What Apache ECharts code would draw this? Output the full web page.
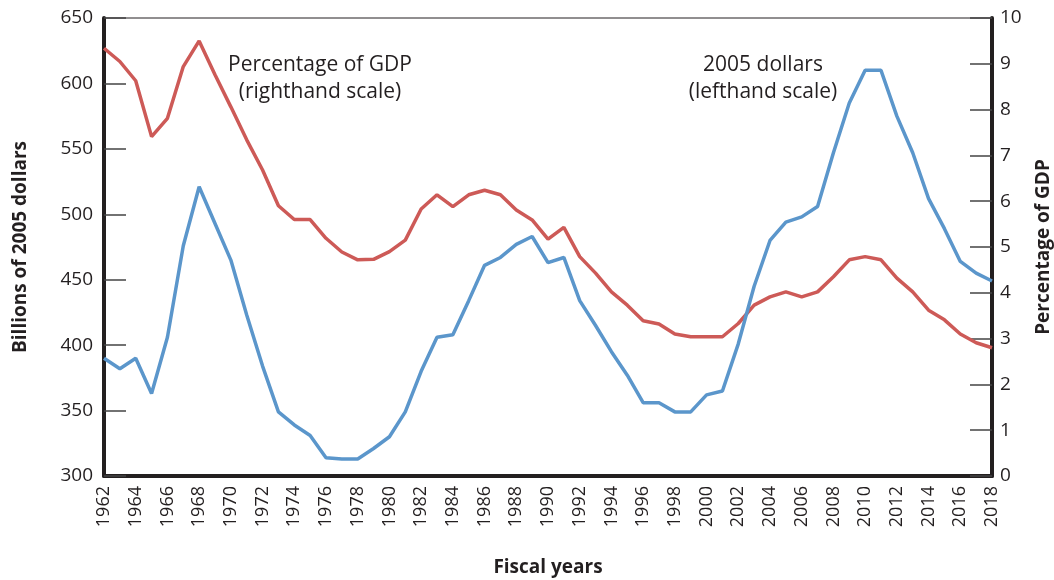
<!DOCTYPE html>
<html>
<head>
<meta charset="utf-8">
<script src="https://cdn.jsdelivr.net/npm/echarts@6/dist/echarts.min.js"></script>
<style>
  html, body { margin: 0; padding: 0; background: #fff; }
  #chart { width: 1054px; height: 580px; }
</style>
</head>
<body>
<div id="chart"></div>
<script>
const years = [];
for (let y = 1962; y <= 2018; y++) years.push(String(y));

// billions of 2005 dollars (lefthand scale)
const dollars2005 = [
  390, 382, 390, 363, 406, 476, 521, 493, 465, 423, 384, 349, 339, 331, 314,
  313, 313, 321, 330, 349, 380, 406, 408, 434, 461, 467, 477, 483, 463, 467,
  434, 415, 395, 377, 356, 356, 349, 349, 362, 365, 401, 445, 480, 494, 498,
  506, 547, 585, 610, 610, 575, 547, 512, 489, 464, 455, 449,
];

// percentage of GDP (righthand scale)
const pctGdp = [
  9.34, 9.05, 8.63, 7.41, 7.81, 8.94, 9.5, 8.76, 8.06, 7.34, 6.68, 5.9, 5.6, 5.6, 5.19,
  4.89, 4.72, 4.73, 4.9, 5.15, 5.83, 6.14, 5.88, 6.14, 6.24, 6.14, 5.81, 5.59, 5.17, 5.43,
  4.79, 4.43, 4.02, 3.73, 3.39, 3.32, 3.1, 3.04, 3.04, 3.04, 3.33, 3.73, 3.91, 4.02, 3.91,
  4.02, 4.35, 4.72, 4.79, 4.72, 4.32, 4.02, 3.62, 3.41, 3.1, 2.91, 2.8,
];

const ink = "#231f20";
const font = "'Open Sans', 'Noto Sans', sans-serif";

const chart = echarts.init(document.getElementById("chart"), null, { renderer: "canvas" });

const option = {
  animation: false,
  textStyle: { fontFamily: font, color: ink },
  grid: {
    left: 104,
    right: 62,
    top: 18,
    bottom: 104,
    containLabel: false,
    outerBoundsMode: "none",
    show: true,
    borderColor: ink,
    borderWidth: 1,
  },
  xAxis: {
    type: "category",
    data: years,
    boundaryGap: false,
    name: "Fiscal years",
    nameLocation: "middle",
    nameGap: 82,
    nameTextStyle: { fontFamily: font, fontWeight: "bold", fontSize: 19, color: ink },
    axisLine: { lineStyle: { color: ink, width: 4 } },
    axisTick: { show: false },
    axisLabel: {
      interval: 1,
      rotate: 90,
      fontFamily: font,
      fontSize: 18,
      color: ink,
      margin: 10,
    },
    splitLine: { show: false },
  },
  yAxis: [
    {
      type: "value",
      min: 300,
      max: 650,
      interval: 50,
      position: "left",
      name: "Billions of 2005 dollars",
      nameLocation: "middle",
      nameRotate: 90,
      nameGap: 74,
      nameTextStyle: { fontFamily: font, fontWeight: "bold", fontSize: 19, color: ink },
      axisLine: { show: true, lineStyle: { color: ink, width: 4 } },
      axisTick: { show: true, inside: true, length: 22, lineStyle: { color: "#444", width: 1.5 } },
      axisLabel: { fontFamily: font, fontSize: 19, color: ink, margin: 11 },
      splitLine: { show: false },
    },
    {
      type: "value",
      min: 0,
      max: 10,
      interval: 1,
      position: "right",
      name: "Percentage of GDP",
      nameLocation: "middle",
      nameRotate: 90,
      nameGap: 42,
      nameTextStyle: { fontFamily: font, fontWeight: "bold", fontSize: 19, color: ink },
      axisLine: { show: true, lineStyle: { color: ink, width: 4 } },
      axisTick: { show: true, inside: true, length: 22, lineStyle: { color: "#444", width: 1.5 } },
      axisLabel: { fontFamily: font, fontSize: 19, color: ink, margin: 8 },
      splitLine: { show: false },
    },
  ],
  series: [
    {
      name: "Percentage of GDP",
      type: "line",
      yAxisIndex: 1,
      data: pctGdp,
      symbol: "none",
      lineStyle: { color: "#cd5a57", width: 3.5 },
      z: 3,
    },
    {
      name: "2005 dollars",
      type: "line",
      yAxisIndex: 0,
      data: dollars2005,
      symbol: "none",
      lineStyle: { color: "#5b96cb", width: 3.5 },
      z: 4,
    },
  ],
  graphic: [
    {
      type: "text",
      x: 320,
      y: 52,
      style: {
        text: "Percentage of GDP\n(righthand scale)",
        align: "center",
        textAlign: "center",
        font: "21px " + font,
        fill: ink,
        lineHeight: 27,
      },
    },
    {
      type: "text",
      x: 763,
      y: 52,
      style: {
        text: "2005 dollars\n(lefthand scale)",
        align: "center",
        textAlign: "center",
        font: "21px " + font,
        fill: ink,
        lineHeight: 27,
      },
    },
  ],
};

chart.setOption(option);
</script>
</body>
</html>
